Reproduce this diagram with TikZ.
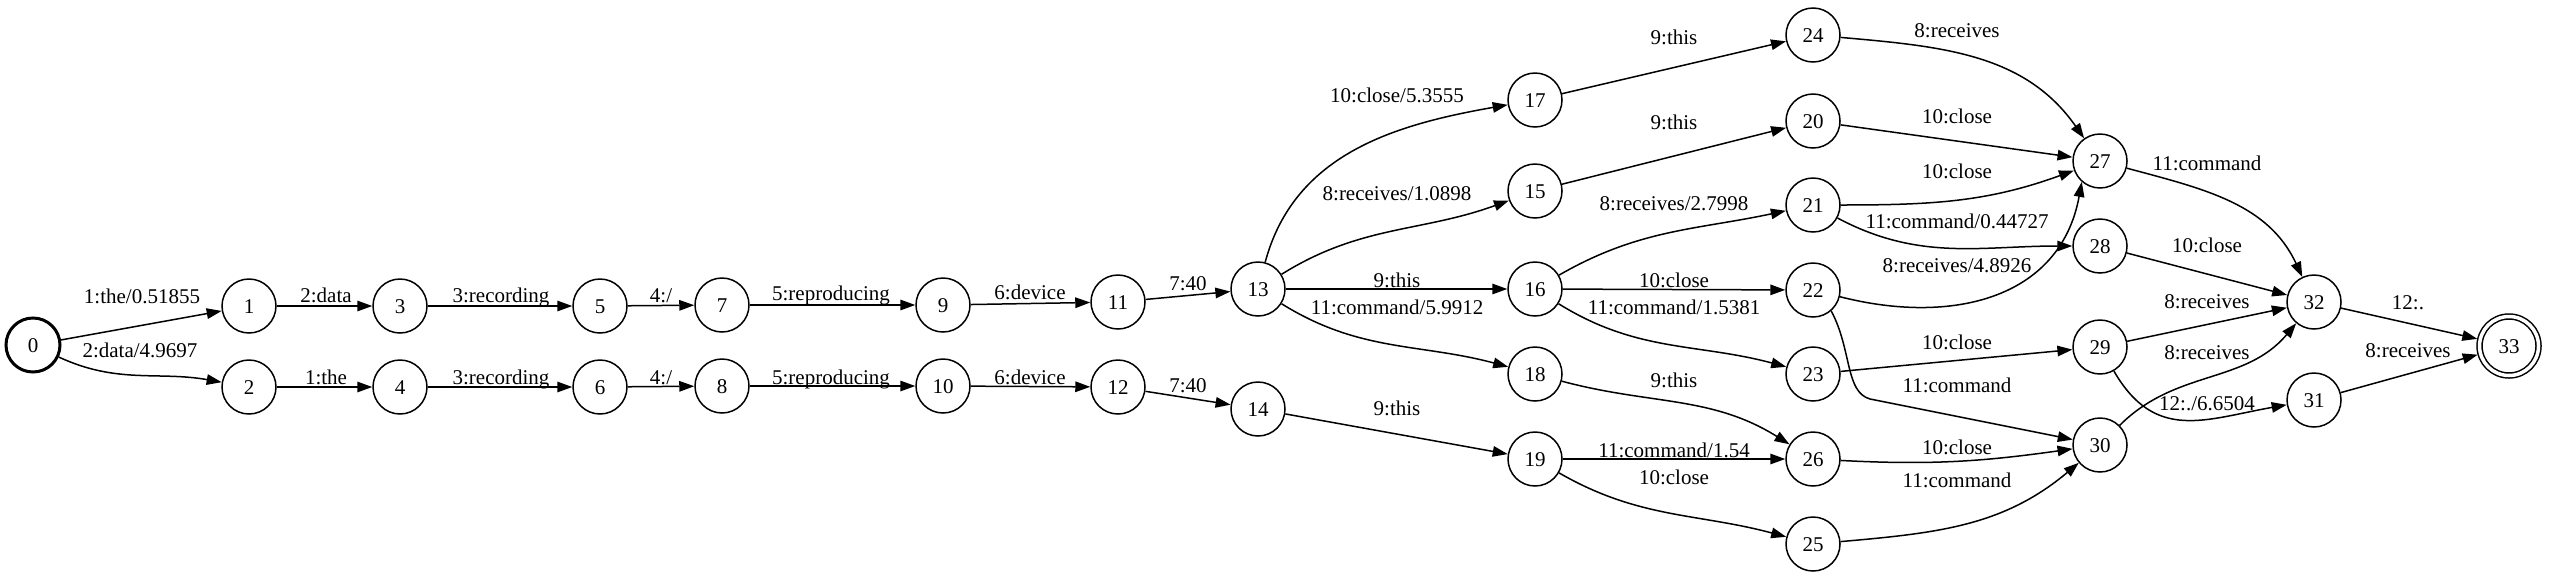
\documentclass[tikz,border=0pt]{standalone}
\usepackage{fontspec}
\setmainfont{Liberation Serif}
\usetikzlibrary{arrows.meta}
\begin{document}
\begin{tikzpicture}[x=1pt,y=1pt,
  st/.style={circle,draw,line width=1.5pt,minimum size=54pt,inner sep=0pt,
    font=\fontsize{21}{25}\selectfont,text height=14.2pt,text depth=0pt},
  lab/.style={inner sep=0pt,font=\fontsize{21}{25}\selectfont,text height=14.2pt,text depth=0pt},
  e/.style={line width=1.5pt,-{Triangle[length=15pt,width=10.5pt]}},
]
\useasboundingbox (0,0) rectangle (2550,-579);
% states
\node[st,line width=3pt] (n0) at (33,-345) {0};
\node[st] (n1) at (249,-306) {1};
\node[st] (n2) at (249,-387) {2};
\node[st] (n3) at (400,-306) {3};
\node[st] (n4) at (400,-387) {4};
\node[st] (n5) at (600,-306) {5};
\node[st] (n6) at (600,-387) {6};
\node[st] (n7) at (722,-305) {7};
\node[st] (n8) at (722,-386) {8};
\node[st] (n9) at (943,-305) {9};
\node[st] (n10) at (943,-386) {10};
\node[st] (n11) at (1118,-302) {11};
\node[st] (n12) at (1118,-387) {12};
\node[st] (n13) at (1258,-289) {13};
\node[st] (n14) at (1258,-409) {14};
\node[st] (n17) at (1535,-100) {17};
\node[st] (n15) at (1535,-191) {15};
\node[st] (n16) at (1535,-289) {16};
\node[st] (n18) at (1535,-374) {18};
\node[st] (n19) at (1535,-459) {19};
\node[st] (n24) at (1813,-35) {24};
\node[st] (n20) at (1813,-121) {20};
\node[st] (n21) at (1813,-205) {21};
\node[st] (n22) at (1813,-290) {22};
\node[st] (n23) at (1813,-374) {23};
\node[st] (n26) at (1813,-459) {26};
\node[st] (n25) at (1813,-544) {25};
\node[st] (n27) at (2100,-161) {27};
\node[st] (n28) at (2100,-246) {28};
\node[st] (n29) at (2100,-347) {29};
\node[st] (n30) at (2100,-445) {30};
\node[st] (n32) at (2314,-302) {32};
\node[st] (n31) at (2314,-400) {31};
\node[st,double,double distance=3.5pt,minimum size=59pt,outer sep=3pt] (n33) at (2509,-346) {33};
% arcs
\draw[e] (n0) -- (n1);
\draw[e] (n0) to[out=-25,in=170] (n2);
\draw[e] (n1) -- (n3);
\draw[e] (n3) -- (n5);
\draw[e] (n5) -- (n7);
\draw[e] (n7) -- (n9);
\draw[e] (n9) -- (n11);
\draw[e] (n11) -- (n13);
\draw[e] (n2) -- (n4);
\draw[e] (n4) -- (n6);
\draw[e] (n6) -- (n8);
\draw[e] (n8) -- (n10);
\draw[e] (n10) -- (n12);
\draw[e] (n12) -- (n14);
\draw[e] (n13) to[out=75,in=190] (n17);
\draw[e] (n13) to[out=32,in=200] (n15);
\draw[e] (n13) -- (n16);
\draw[e] (n13) to[out=-32,in=165] (n18);
\draw[e] (n14) -- (n19);
\draw[e] (n17) -- (n24);
\draw[e] (n15) -- (n20);
\draw[e] (n16) to[out=30,in=192] (n21);
\draw[e] (n16) -- (n22);
\draw[e] (n16) to[out=-32,in=165] (n23);
\draw[e] (n18) to[out=-15,in=148] (n26);
\draw[e] (n19) -- (n26);
\draw[e] (n19) to[out=-30,in=165] (n25);
\draw[e] (n24) to[out=-5,in=125] (n27);
\draw[e] (n20) -- (n27);
\draw[e] (n21) to[out=0,in=200] (n27);
\draw[e] (n21) to[out=-28,in=180] (n28);
\draw[e] (n22.-14) .. controls (1950,-325) and (2060,-300) .. (n27.-131);
\coordinate (k22) at (1870,-399);
\draw[e] (n22.-49) .. controls (1852,-350) and (1845,-392) .. (k22) -- (n30);
\draw[e] (n23) -- (n29);
\draw[e] (n26) to[out=-3,in=188] (n30);
\draw[e] (n25) to[out=5,in=-140] (n30);
\draw[e] (n27) to[out=-15,in=115] (n32);
\draw[e] (n28) -- (n32);
\draw[e] (n29) -- (n32);
\draw[e] (n30) to[out=45,in=-130] (n32);
\draw[e] (n29) to[out=-60,in=190,looseness=1.2] (n31);
\draw[e] (n32) -- (n33);
\draw[e] (n31) -- (n33);
% labels
\node[lab] (l0a) at (142,-296) {1:the/0.51855};
\node[lab] (l0b) at (140,-350) {2:data/4.9697};
\node[lab] (l1) at (326,-295) {2:data};
\node[lab] (l2) at (326,-377) {1:the};
\node[lab] (l3) at (501,-295) {3:recording};
\node[lab] (l4) at (501,-377) {3:recording};
\node[lab] (l5) at (661,-295) {4:/};
\node[lab] (l6) at (661,-377) {4:/};
\node[lab] (l7) at (831,-293) {5:reproducing};
\node[lab] (l8) at (831,-377) {5:reproducing};
\node[lab] (l9) at (1030,-292) {6:device};
\node[lab] (l10) at (1030,-377) {6:device};
\node[lab] (l11) at (1188,-283) {7:40};
\node[lab] (l12) at (1188,-385) {7:40};
\node[lab] (l13a) at (1397,-95) {10:close/5.3555};
\node[lab] (l13b) at (1397,-193) {8:receives/1.0898};
\node[lab] (l13c) at (1397,-280) {9:this};
\node[lab] (l13d) at (1397,-307) {11:command/5.9912};
\node[lab] (l14) at (1397,-408) {9:this};
\node[lab] (l17) at (1674,-37) {9:this};
\node[lab] (l15) at (1674,-122) {9:this};
\node[lab] (l16a) at (1674,-203) {8:receives/2.7998};
\node[lab] (l16b) at (1674,-280) {10:close};
\node[lab] (l16c) at (1674,-307) {11:command/1.5381};
\node[lab] (l18) at (1674,-380) {9:this};
\node[lab] (l19a) at (1674,-450) {11:command/1.54};
\node[lab] (l19b) at (1674,-477) {10:close};
\node[lab] (l24) at (1957,-30) {8:receives};
\node[lab] (l20) at (1957,-116) {10:close};
\node[lab] (l21a) at (1957,-171) {10:close};
\node[lab] (l21b) at (1957,-221) {11:command/0.44727};
\node[lab] (l22a) at (1957,-265) {8:receives/4.8926};
\node[lab] (l23) at (1957,-342) {10:close};
\node[lab] (l22b) at (1957,-385) {11:command};
\node[lab] (l26) at (1957,-447) {10:close};
\node[lab] (l25) at (1957,-480) {11:command};
\node[lab] (l27) at (2207,-163) {11:command};
\node[lab] (l28) at (2207,-245) {10:close};
\node[lab] (l29a) at (2207,-301) {8:receives};
\node[lab] (l30) at (2207,-352) {8:receives};
\node[lab] (l29b) at (2207,-403) {12:./6.6504};
\node[lab] (l32) at (2408,-302) {12:.};
\node[lab] (l31) at (2408,-350) {8:receives};
\end{tikzpicture}
\end{document}
